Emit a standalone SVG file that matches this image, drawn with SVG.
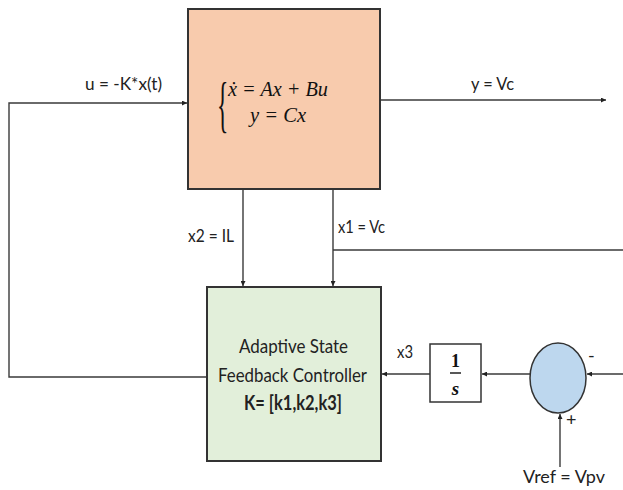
<svg xmlns="http://www.w3.org/2000/svg" width="623" height="490" viewBox="0 0 623 490">
  <style>
    .wire { fill: none; stroke: #3a3a3a; stroke-width: 1.4; }
    .box { stroke: #333; stroke-width: 2; }
    .lbl { font-family: Lato, "Open Sans", sans-serif; font-size: 18px; fill: #222; }
    .ctl { font-family: Lato, "Open Sans", sans-serif; font-size: 20px; fill: #222; }
    .math { font-family: "Liberation Serif", "DejaVu Serif", serif; font-style: italic; fill: #111; }
  </style>
  <defs>
    <marker id="arr" viewBox="0 0 10 10" refX="10" refY="5" markerWidth="5" markerHeight="5" orient="auto" markerUnits="userSpaceOnUse">
      <path d="M0,0 L10,5 L0,10 z" fill="#222"/>
    </marker>
  </defs>
  <rect width="623" height="490" fill="#fff"/>

  <g id="connectors">
    <!-- feedback u = -K*x(t) -->
    <path class="wire" d="M207,377 H9 V103 H187" marker-end="url(#arr)"/>
    <!-- output y -->
    <path class="wire" d="M381,100 H606" marker-end="url(#arr)"/>
    <!-- state x2 -->
    <path class="wire" d="M243,189 V286" marker-end="url(#arr)"/>
    <!-- state x1 -->
    <path class="wire" d="M333,189 V286" marker-end="url(#arr)"/>
    <path class="wire" d="M333,250 H623"/>
    <!-- integrator to controller -->
    <path class="wire" d="M430,374 H382" marker-end="url(#arr)"/>
    <!-- sum to integrator -->
    <path class="wire" d="M530,374 H482" marker-end="url(#arr)"/>
    <!-- feedback into sum (-) -->
    <path class="wire" d="M623,374 H587" marker-end="url(#arr)"/>
    <!-- reference into sum (+) -->
    <path class="wire" d="M560,467 V414" marker-end="url(#arr)"/>
  </g>

  <g id="plant">
    <rect class="box" x="188" y="9" width="192" height="180" fill="#F8CBAD"/>
    <text x="0" y="0" font-size="62" font-family="Liberation Serif, serif" fill="#111" transform="translate(217 125) scale(0.38 1)">{</text>
    <text class="math" x="228" y="96" font-size="21" textLength="100" lengthAdjust="spacingAndGlyphs">ẋ = Ax + Bu</text>
    <text class="math" x="250" y="122" font-size="21" textLength="56" lengthAdjust="spacingAndGlyphs">y = Cx</text>
  </g>

  <g id="controller">
    <rect class="box" x="207" y="287" width="174" height="174" fill="#E2EFDA"/>
    <text class="ctl" x="239" y="353" textLength="109" lengthAdjust="spacingAndGlyphs">Adaptive State</text>
    <text class="ctl" x="218" y="382" textLength="149" lengthAdjust="spacingAndGlyphs">Feedback Controller</text>
    <text class="ctl" x="244" y="410" font-weight="bold" textLength="98" lengthAdjust="spacingAndGlyphs">K= [k1,k2,k3]</text>
  </g>

  <g id="integrator">
    <rect x="430" y="344" width="51" height="58" fill="#fff" stroke="#333" stroke-width="1.5"/>
    <text x="455.5" y="367" font-family="Liberation Serif, serif" font-weight="bold" font-size="18" text-anchor="middle" fill="#111">1</text>
    <line x1="450" y1="373" x2="461" y2="373" stroke="#111" stroke-width="1.4"/>
    <text class="math" x="455.5" y="395" font-size="19" font-weight="bold" text-anchor="middle">s</text>
  </g>

  <g id="summer">
    <ellipse cx="558" cy="378" rx="28" ry="35" fill="#BDD7EE" stroke="#333" stroke-width="1.5"/>
    <text class="lbl" x="588" y="362" font-size="16">-</text>
    <text class="lbl" x="566" y="426" font-size="16">+</text>
  </g>

  <g id="labels">
    <text class="lbl" x="85" y="90" textLength="77" lengthAdjust="spacingAndGlyphs">u = -K*x(t)</text>
    <text class="lbl" x="471" y="90" textLength="43" lengthAdjust="spacingAndGlyphs">y = Vc</text>
    <text class="lbl" x="188" y="242" textLength="46" lengthAdjust="spacingAndGlyphs">x2 = IL</text>
    <text class="lbl" x="338" y="233" textLength="47" lengthAdjust="spacingAndGlyphs">x1 = Vc</text>
    <text class="lbl" x="397" y="358" textLength="16" lengthAdjust="spacingAndGlyphs">x3</text>
    <text class="lbl" x="523" y="483" textLength="82" lengthAdjust="spacingAndGlyphs">Vref = Vpv</text>
  </g>
</svg>
